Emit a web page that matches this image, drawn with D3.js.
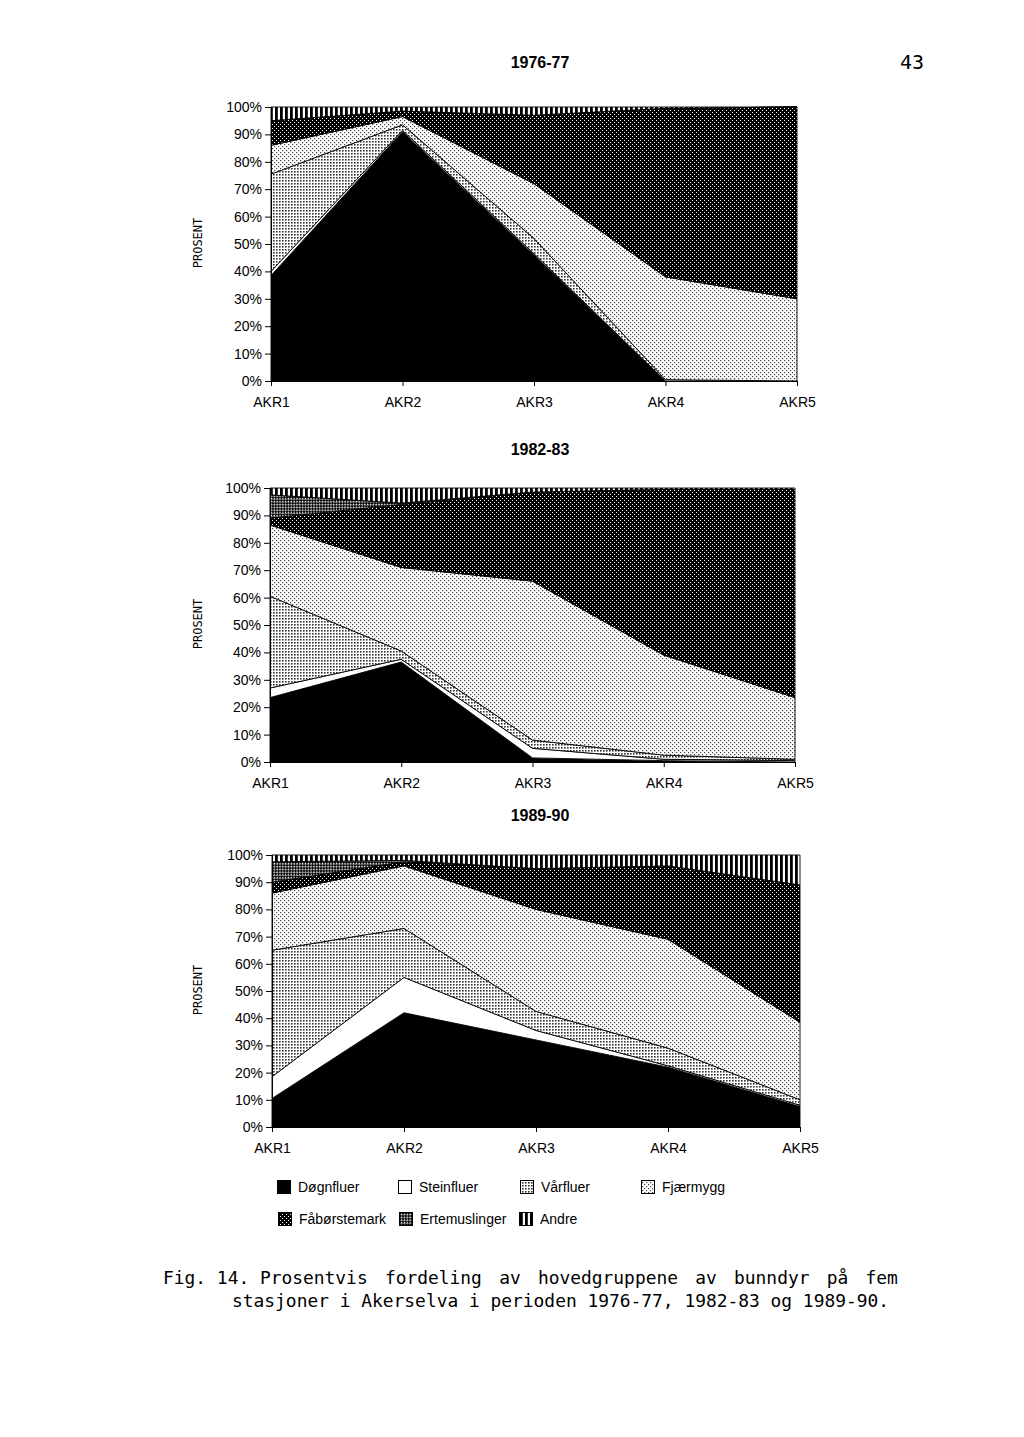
<!DOCTYPE html>
<html>
<head>
<meta charset="utf-8">
<script src="https://cdn.jsdelivr.net/npm/d3@7"></script>
<style>
  body { margin: 0; background: #fff; }
  svg { display: block; }
</style>
</head>
<body>
<div id="vis"></div>
<script>
const stations = ["AKR1", "AKR2", "AKR3", "AKR4", "AKR5"];
const groups = ["Døgnfluer", "Steinfluer", "Vårfluer", "Fjærmygg", "Fåbørstemark", "Ertemuslinger", "Andre"];
const periods = ["1976-77", "1982-83", "1989-90"];
const percentTicks = [0, 10, 20, 30, 40, 50, 60, 70, 80, 90, 100];

// percent share per group (rows follow `groups`), one value per station
const shares1976 = [
    [38.5, 91, 46, 0, 0],
    [1.5, 0.5, 0.5, 0, 0],
    [35.5, 2, 5.5, 0.5, 0],
    [10.5, 3, 20, 37.5, 30],
    [9, 2, 25, 61.5, 70],
    [0, 0, 0, 0, 0],
    [5, 1.5, 3, 0.5, 0]
];
const shares1982 = [
    [23.5, 36.5, 1.5, 0.5, 0],
    [3.5, 1, 3.5, 0.5, 0.5],
    [33.5, 3, 3, 1.5, 0.5],
    [26, 30.5, 58, 36.5, 22.5],
    [2.5, 23, 32.5, 60.5, 76],
    [8.5, 0.5, 0, 0, 0],
    [2.5, 5.5, 1.5, 0.5, 0.5]
];
const shares1989 = [
    [10.5, 42, 32, 22, 7.5],
    [8, 13, 3.5, 0.5, 0.5],
    [46.5, 18, 7, 6.5, 2],
    [21, 23, 37.5, 40, 28.5],
    [4, 1.5, 15, 27, 50.5],
    [7.5, 0.5, 0, 0, 0],
    [2.5, 2, 5, 4, 11]
];
const allShares = [shares1976, shares1982, shares1989];

// panel placement on the page
const panels = [
    {top: 107, bottom: 381, left: 271, right: 797, titleY: 68},
    {top: 488, bottom: 762, left: 270, right: 795, titleY: 455},
    {top: 855, bottom: 1127, left: 272, right: 800, titleY: 821}
];

const fills = ["#000", "#fff", "url(#p-var)", "url(#p-fjaer)", "url(#p-faa)", "url(#p-erte)", "url(#p-andre)"];

const svg = d3.select("#vis").append("svg")
    .attr("width", 1024)
    .attr("height", 1437);

const defs = svg.append("defs");

function pattern(id, w, h, bg, fg, rects, transform) {
    const p = defs.append("pattern")
        .attr("id", id)
        .attr("patternUnits", "userSpaceOnUse")
        .attr("width", w)
        .attr("height", h);
    if (transform) p.attr("patternTransform", transform);
    p.append("rect").attr("width", w).attr("height", h).attr("fill", bg);
    rects.forEach(r => p.append("rect")
        .attr("x", r[0]).attr("y", r[1]).attr("width", r[2]).attr("height", r[3])
        .attr("fill", fg));
}
pattern("p-var", 3, 3, "#fff", "#333", [[0, 0, 1.6, 1.6]]);
pattern("p-fjaer", 4, 4, "#fff", "#444", [[0, 0, 1.2, 1.2], [2, 2, 1.2, 1.2]]);
pattern("p-faa", 4, 4, "#000", "#fff", [[0, 0, 1, 1], [2, 2, 1, 1]]);
pattern("p-erte", 4, 4, "#000", "#fff", [[0, 0, 1.6, 1.6], [2, 2, 1.6, 1.6]], "rotate(45)");
pattern("p-andre", 5, 5, "#fff", "#000", [[0, 0, 2.8, 5]]);

const fontSans = "'Liberation Sans', Arial, Helvetica, sans-serif";
const fontMono = "'DejaVu Sans Mono', monospace";

panels.forEach((pn, i) => {
    const shares = allShares[i];
    const table = stations.map((s, j) => {
        const row = {station: s};
        groups.forEach((g, k) => row[g] = shares[k][j]);
        return row;
    });
    const series = d3.stack().keys(groups)(table);

    const x = d3.scalePoint().domain(stations).range([pn.left, pn.right]);
    const y = d3.scaleLinear().domain([0, 100]).range([pn.bottom, pn.top]);

    const area = d3.area()
        .x(d => x(d.data.station))
        .y0(d => y(d[0]))
        .y1(d => y(d[1]));

    const g = svg.append("g");

    g.selectAll("path.layer")
        .data(series)
        .join("path")
        .attr("class", "layer")
        .attr("d", area)
        .attr("fill", (d, k) => fills[k])
        .attr("stroke", "#000")
        .attr("stroke-width", 0.9)
        .attr("stroke-linejoin", "round");

    // axes
    const yAxis = g.append("g")
        .attr("transform", `translate(${pn.left},0)`)
        .call(d3.axisLeft(y).tickValues(percentTicks).tickFormat(d => d + "%").tickSize(6).tickSizeOuter(0).tickPadding(3));
    const xAxis = g.append("g")
        .attr("transform", `translate(0,${pn.bottom})`)
        .call(d3.axisBottom(x).tickSize(5).tickSizeOuter(0).tickPadding(11));
    [yAxis, xAxis].forEach(a => {
        a.selectAll("text").attr("font-family", fontSans).attr("font-size", 14).attr("fill", "#000");
        a.selectAll("line, path").attr("stroke", "#000").attr("stroke-width", 1);
    });

    svg.append("text")
        .attr("x", 540)
        .attr("y", pn.titleY)
        .attr("text-anchor", "middle")
        .attr("font-family", fontSans)
        .attr("font-weight", "bold")
        .attr("font-size", 16)
        .text(periods[i]);

    svg.append("text")
        .attr("transform", `translate(202,${(pn.top + pn.bottom) / 2 - 1}) rotate(-90)`)
        .attr("text-anchor", "middle")
        .attr("font-family", fontMono)
        .attr("font-size", 12)
        .text("PROSENT");
});

// page number
svg.append("text")
    .attr("x", 900)
    .attr("y", 69)
    .attr("font-family", fontMono)
    .attr("font-size", 20)
    .text("43");

// legend
const legendPos = [[277, 1187], [398, 1187], [520, 1187], [641, 1187], [278, 1219], [399, 1219], [519, 1219]];
const legend = svg.append("g");
groups.forEach((name, k) => {
    const [lx, ly] = legendPos[k];
    legend.append("rect")
        .attr("x", lx + 0.5)
        .attr("y", ly - 6.5)
        .attr("width", 13)
        .attr("height", 13)
        .attr("fill", fills[k])
        .attr("stroke", "#000")
        .attr("stroke-width", 1);
    legend.append("text")
        .attr("x", lx + 21)
        .attr("y", ly + 5)
        .attr("font-family", fontSans)
        .attr("font-size", 14)
        .text(name);
});

// caption
const cap1 = svg.append("text")
    .attr("x", 163)
    .attr("y", 1284)
    .attr("font-family", fontMono)
    .attr("font-size", 17.9);
cap1.append("tspan").text("Fig. 14. Prosentvis");
cap1.append("tspan").attr("word-spacing", 6.5).text(" fordeling av hovedgruppene av bunndyr på fem");
svg.append("text")
    .attr("x", 232)
    .attr("y", 1307)
    .attr("font-family", fontMono)
    .attr("font-size", 17.9)
    .text("stasjoner i Akerselva i perioden 1976-77, 1982-83 og 1989-90.");
</script>
</body>
</html>
